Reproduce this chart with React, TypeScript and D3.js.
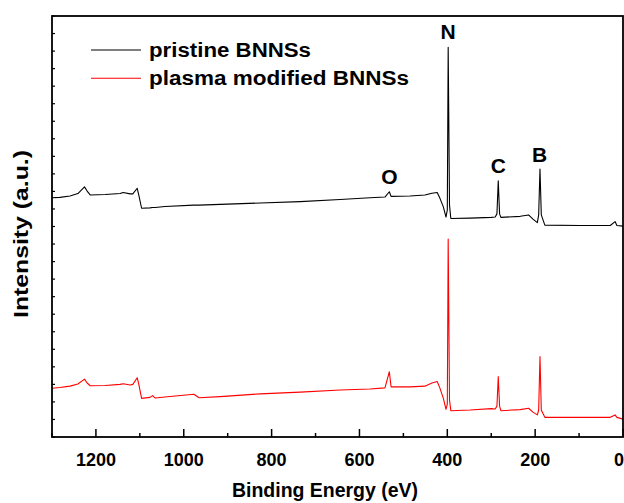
import React from "react";
import * as d3 from "d3";

// Binding energies (eV) sampled along both XPS survey spectra
const energies = [
  1300, 1282, 1259, 1241, 1226, 1220, 1213, 1179, 1145, 1138, 1122, 1116, 1106, 1102,
  1096, 1077, 1071, 1065, 1043, 977, 965, 917, 826, 735, 644, 576, 542, 532, 528, 485,
  451, 435, 423, 417, 409, 403, 400, 398, 395, 392, 348, 300, 291, 287, 284, 281, 278,
  234, 215, 205, 195, 192, 189, 186, 178, 98, 29, 18, 14, 0,
];

// Intensity (a.u., vertically offset) of pristine BNNSs
const pristine = [
  68.2, 68.3, 68.7, 69.4, 71.3, 70.1, 69.0, 69.1, 69.4, 69.7, 69.3, 69.3, 70.9, 68.7,
  65.2, 65.3, 65.4, 65.4, 65.7, 66.1, 66.1, 66.3, 66.7, 67.1, 67.7, 68.2, 68.4, 69.9,
  68.6, 68.7, 69.0, 69.5, 69.7, 68.1, 65.6, 62.7, 64.7, 111.1, 66.1, 62.3, 62.4, 62.6,
  62.7, 63.6, 73.0, 63.6, 62.6, 62.9, 63.3, 62.1, 61.1, 63.3, 76.4, 63.3, 60.4, 60.3,
  60.3, 61.4, 60.3, 60.1,
];

// Intensity (a.u.) of plasma modified BNNSs
const plasma = [
  13.9, 14.1, 14.5, 15.1, 16.5, 15.4, 14.6, 14.7, 15.0, 15.2, 14.8, 15.0, 16.9, 14.8,
  11.0, 11.3, 11.8, 11.1, 11.4, 12.2, 11.2, 11.5, 12.3, 12.8, 13.4, 13.7, 14.0, 18.6,
  14.3, 14.3, 14.5, 15.4, 15.8, 14.0, 11.0, 7.9, 9.4, 56.4, 10.5, 7.5, 7.7, 8.1, 8.0,
  8.8, 17.2, 8.8, 7.5, 7.8, 8.2, 7.1, 6.3, 7.7, 22.9, 7.7, 5.6, 5.6, 5.6, 6.3, 5.6, 5.1,
];

// Element peak annotations: label, binding energy, intensity of the label baseline
const peakLabels = ["O", "N", "C", "B"];
const peakEnergies = [532, 398, 284, 190];
const peakLabelLevels = [72.2, 113.4, 75.2, 78.4];

const seriesNames = ["pristine BNNSs", "plasma modified BNNSs"];
const seriesColors = ["#000000", "#ff0000"];
const legendTextWidths = [162, 260];

const xMajorTicks = [1200, 1000, 800, 600, 400, 200, 0];
const xMinorTicks = [1300, 1100, 900, 700, 500, 300, 100];

const W = 624;
const H = 503;
const M = { left: 52, right: 623, top: 16, bottom: 437 };
const FONT = "'Liberation Sans', Arial, Helvetica, sans-serif";

export default function App() {
  const x = d3.scaleLinear().domain([1300, 0]).range([M.left, M.right]);
  const y = d3.scaleLinear().domain([0, 120]).range([M.bottom, M.top]);
  const yTicks = d3.range(0, 121, 5);

  const line = d3
    .line<number>()
    .x((_, i) => x(energies[i]))
    .y((v) => y(v));

  const series = [pristine, plasma];

  return (
    <svg
      width={W}
      height={H}
      viewBox={`0 0 ${W} ${H}`}
      style={{ position: "absolute", left: 0, top: 0, background: "#fff" }}
    >
      <rect x={0} y={0} width={W} height={H} fill="#fff" />
      <defs>
        <clipPath id="plot-clip">
          <rect x={M.left} y={M.top} width={M.right - M.left} height={M.bottom - M.top} />
        </clipPath>
      </defs>

      {/* spectra */}
      <g clipPath="url(#plot-clip)">
        {series.map((s, k) => (
          <path
            key={k}
            d={line(s) || ""}
            fill="none"
            stroke={seriesColors[k]}
            strokeWidth={1.1}
            strokeLinejoin="round"
          />
        ))}
      </g>

      {/* peak labels */}
      {peakLabels.map((lab, i) => (
        <text
          key={lab}
          x={x(peakEnergies[i])}
          y={y(peakLabelLevels[i])}
          textAnchor="middle"
          fontFamily={FONT}
          fontWeight="bold"
          fontSize={21}
        >
          {lab}
        </text>
      ))}

      {/* frame */}
      <rect
        x={M.left}
        y={M.top}
        width={M.right - M.left}
        height={M.bottom - M.top}
        fill="none"
        stroke="#000"
        strokeWidth={1.8}
      />

      {/* x ticks (inward) */}
      {xMajorTicks.map((t) => (
        <line key={`M${t}`} x1={x(t)} x2={x(t)} y1={M.bottom} y2={M.bottom - 8} stroke="#000" strokeWidth={1.5} />
      ))}
      {xMinorTicks.map((t) => (
        <line key={`m${t}`} x1={x(t)} x2={x(t)} y1={M.bottom} y2={M.bottom - 4} stroke="#000" strokeWidth={1.5} />
      ))}
      {xMajorTicks.map((t) => {
        const atEdge = x(t) + 6 > W;
        return (
          <text
            key={`L${t}`}
            x={atEdge ? W : x(t)}
            y={466}
            textAnchor={atEdge ? "end" : "middle"}
            fontFamily={FONT}
            fontWeight="bold"
            fontSize={18}
          >
            {t}
          </text>
        );
      })}

      {/* y ticks (inward) */}
      {yTicks.map((t) => (
        <line key={`y${t}`} x1={M.left} x2={M.left + 3} y1={y(t)} y2={y(t)} stroke="#000" strokeWidth={1.2} />
      ))}

      {/* axis titles */}
      <text
        x={232}
        y={497}
        textLength={186}
        lengthAdjust="spacingAndGlyphs"
        fontFamily={FONT}
        fontWeight="bold"
        fontSize={20}
      >
        Binding Energy (eV)
      </text>
      <text
        transform={`translate(28, 318) rotate(-90)`}
        textLength={168}
        lengthAdjust="spacingAndGlyphs"
        fontFamily={FONT}
        fontWeight="bold"
        fontSize={20}
      >
        Intensity (a.u.)
      </text>

      {/* legend */}
      {seriesNames.map((name, k) => (
        <g key={name} transform={`translate(0, ${50 + k * 28.3})`}>
          <line x1={91} x2={141} y1={0} y2={0} stroke={seriesColors[k]} strokeWidth={1.1} />
          <text
            x={149}
            y={7}
            textLength={legendTextWidths[k]}
            lengthAdjust="spacingAndGlyphs"
            fontFamily={FONT}
            fontWeight="bold"
            fontSize={20}
          >
            {name}
          </text>
        </g>
      ))}
    </svg>
  );
}
